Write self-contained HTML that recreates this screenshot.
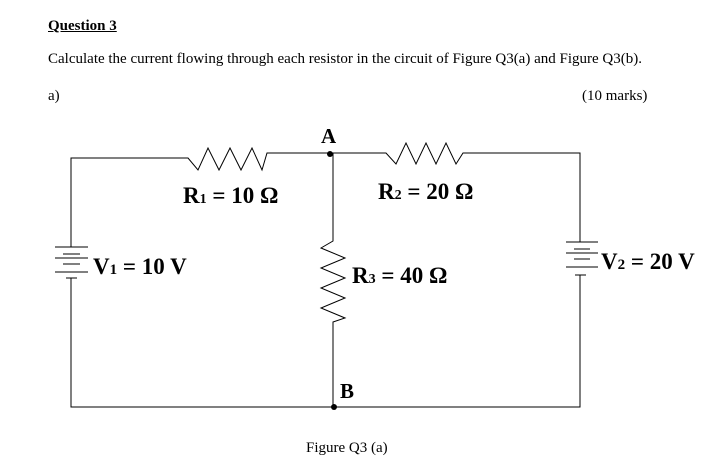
<!DOCTYPE html><html><head><style>
body{margin:0;background:#fff;width:711px;height:463px;overflow:hidden;font-family:"Liberation Serif",serif;}
.t{position:absolute;font-size:15px;color:#000;}
.b{position:absolute;font-weight:bold;font-size:23px;}
</style></head><body>
<div class="t" style="left:48px;top:18px;font-weight:bold;text-decoration:underline;font-size:15px">Question 3</div>
<div class="t" style="left:48px;top:51px">Calculate the current flowing through each resistor in the circuit of Figure Q3(a) and Figure Q3(b).</div>
<div class="t" style="left:48px;top:88px">a)</div>
<div class="t" style="left:582px;top:88px">(10 marks)</div>
<svg width="711" height="463" style="position:absolute;left:0;top:0" fill="none" stroke="#000" stroke-width="1">
<polyline points="71,247 71,158 188,158 198,170 208,148 219,170 230,148 241,170 252,148 262,170 267,153 330,153"/>
<polyline points="330,153 386,153 396,164 406,143 416,164 426,143 436,164 446,143 456,164 463,153 580,153 580,242"/>
<polyline points="333,153 333,241 321,248 345,258 321,268 345,278 321,288 345,298 321,308 345,318 333,322 333,407"/>
<polyline points="71,278 71,407 580,407 580,275"/>
<g>
<line x1="55" y1="247" x2="88" y2="247"/><line x1="63" y1="254" x2="80" y2="254"/>
<line x1="55" y1="258" x2="88" y2="258"/><line x1="63" y1="264" x2="80" y2="264"/>
<line x1="55" y1="272" x2="88" y2="272"/><line x1="66" y1="278" x2="77" y2="278"/>
</g>
<g>
<line x1="566" y1="242" x2="598" y2="242"/><line x1="574" y1="249" x2="590" y2="249"/>
<line x1="566" y1="253" x2="598" y2="253"/><line x1="574" y1="259" x2="590" y2="259"/>
<line x1="566" y1="267" x2="598" y2="267"/><line x1="575" y1="275" x2="586" y2="275"/>
</g>
<circle cx="330" cy="154" r="3" fill="#000" stroke="none"/>
<circle cx="334" cy="407" r="3" fill="#000" stroke="none"/>
</svg>
<div class="b" style="left:321px;top:124px;font-size:21px">A</div>
<div class="b" style="left:340px;top:379px;font-size:21px">B</div>
<div class="b" style="left:183px;top:183px">R<span style="font-size:14px">1</span> = 10 Ω</div>
<div class="b" style="left:378px;top:179px">R<span style="font-size:14px">2</span> = 20 Ω</div>
<div class="b" style="left:352px;top:263px">R<span style="font-size:14px">3</span> = 40 Ω</div>
<div class="b" style="left:93px;top:254px">V<span style="font-size:15px">1</span> = 10 V</div>
<div class="b" style="left:601px;top:249px">V<span style="font-size:15px">2</span> = 20 V</div>
<div class="t" style="left:306px;top:440px">Figure Q3 (a)</div>
</body></html>
